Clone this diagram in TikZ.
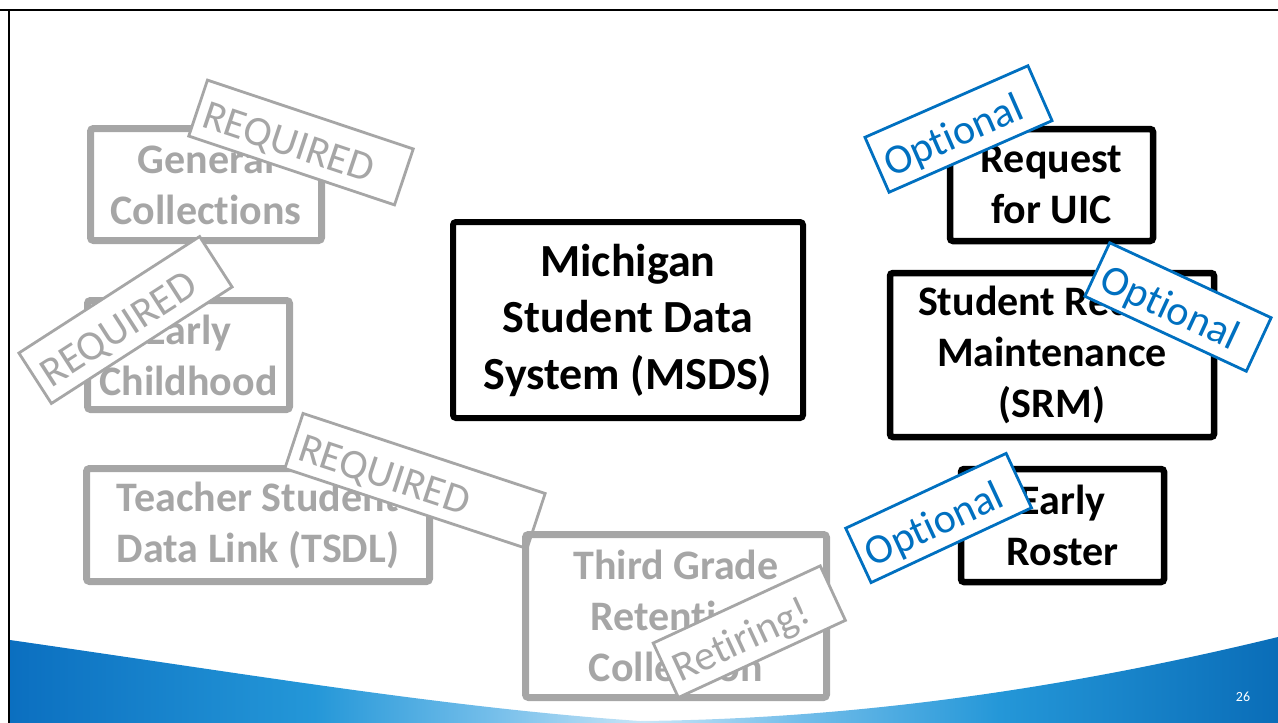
\documentclass[tikz,border=0pt]{standalone}
\usepackage{fontspec}
\setmainfont[Ligatures=NoCommon]{Carlito}
\usepackage{xcolor}
\definecolor{oldgray}{HTML}{A6A6A6}
\definecolor{optblue}{HTML}{0070C0}
\definecolor{wavedark}{HTML}{0B6FC0}
\definecolor{waveblue}{HTML}{2497D8}
\definecolor{wavesoft}{HTML}{74BEEA}
\definecolor{wavelight}{HTML}{C8E5F7}
\definecolor{waveright}{HTML}{0A6DB8}
\pgfdeclarehorizontalshading{wave}{100bp}{color(0bp)=(wavedark); color(25bp)=(wavedark); color(37bp)=(waveblue); color(44bp)=(wavesoft); color(50bp)=(wavelight); color(56bp)=(wavesoft); color(64bp)=(waveblue); color(75bp)=(waveright); color(100bp)=(waveright)}
\tikzset{old node/.style={draw=oldgray,text=oldgray,line width=7pt,rounded corners=3pt,align=center,font=\fontsize{42}{51}\selectfont\bfseries},
  new node/.style={draw=black,text=black,line width=6.5pt,rounded corners=3pt,align=center,font=\fontsize{42}{51}\selectfont\bfseries},
  stamp node/.style={fill=white,line width=2.8pt,inner xsep=8pt,inner ysep=0pt,align=left,text height=38pt,text depth=4pt,font=\fontsize{42}{48}\selectfont},
  req node/.style={stamp node,draw=oldgray,text=oldgray},
  opt node/.style={stamp node,draw=optblue,text=optblue},}

\begin{document}
\begin{tikzpicture}[x=1pt,y=-1pt]
    \useasboundingbox (0,0) rectangle (1278,723);

    % wave at the bottom
    \shade[shading=wave] (10,640) .. controls (260,676) and (450,708) .. (640,721)
      .. controls (850,719) and (1060,690) .. (1278,637) -- (1278,723) -- (10,723) -- cycle;

    % collections that stay
    \node[old node, minimum width=231pt, minimum height=112pt] (gc) at (206,184.5) {General\\Collections};
    \node[old node, minimum width=202pt, minimum height=109pt] (ec) at (188.5,355) {Early\\Childhood};
    \node[old node, minimum width=343pt, minimum height=113pt] (tsdl) at (258,525) {Teacher Student\\Data Link (TSDL)};

    \node[new node, line width=6pt, minimum width=350pt, minimum height=196pt,
      font=\fontsize{46}{56.5}\selectfont\bfseries] (msds) at (628,320) {Michigan\\Student Data\\System (MSDS)};

    \node[new node, minimum width=203pt, minimum height=112pt] (uic) at (1051.5,185) {Request\\for UIC};
    \node[new node, minimum width=324pt, minimum height=164pt] (srm) at (1052,355) {Student Record\\Maintenance\\(SRM)};
    \node[new node, minimum width=203pt, minimum height=113pt] (er) at (1062.5,525.5) {Early\\Roster};

    % stamps
    \node[req node, rotate=-18.5, text width=201pt, minimum height=59pt] (r1) at (301,142.5) {REQUIRED};
    \node[req node, rotate=32.8, text width=199pt, minimum height=60pt] (r2) at (125.5,320) {REQUIRED};
    \node[req node, rotate=-18.3, text width=239pt, minimum height=58pt] (r3) at (415,481) {REQUIRED};

    \node[old node, minimum width=301pt, minimum height=163pt] (tgr) at (676,616) {Third Grade\\Retention\\Collection};
    \node[req node, rotate=24.8, text width=168pt, minimum height=60pt] (ret) at (749.3,631.7) {Retiring!};

    \node[opt node, rotate=23.7, text width=162pt, minimum height=60pt] (o1) at (958.5,129) {Optional};
    \node[opt node, rotate=-24.9, text width=162pt, minimum height=59pt] (o2) at (1178,307) {Optional};
    \node[opt node, rotate=25, text width=161pt, minimum height=60pt] (o3) at (938.6,518) {Optional};

    % page number and frame
    \node[text=white, font=\fontsize{14}{16}\selectfont] (pg) at (1243,697) {26};
    \draw[line width=2pt] (0,10) -- (1278,10);
    \draw[line width=2pt] (9,10) -- (9,723);
\end{tikzpicture}
\end{document}
